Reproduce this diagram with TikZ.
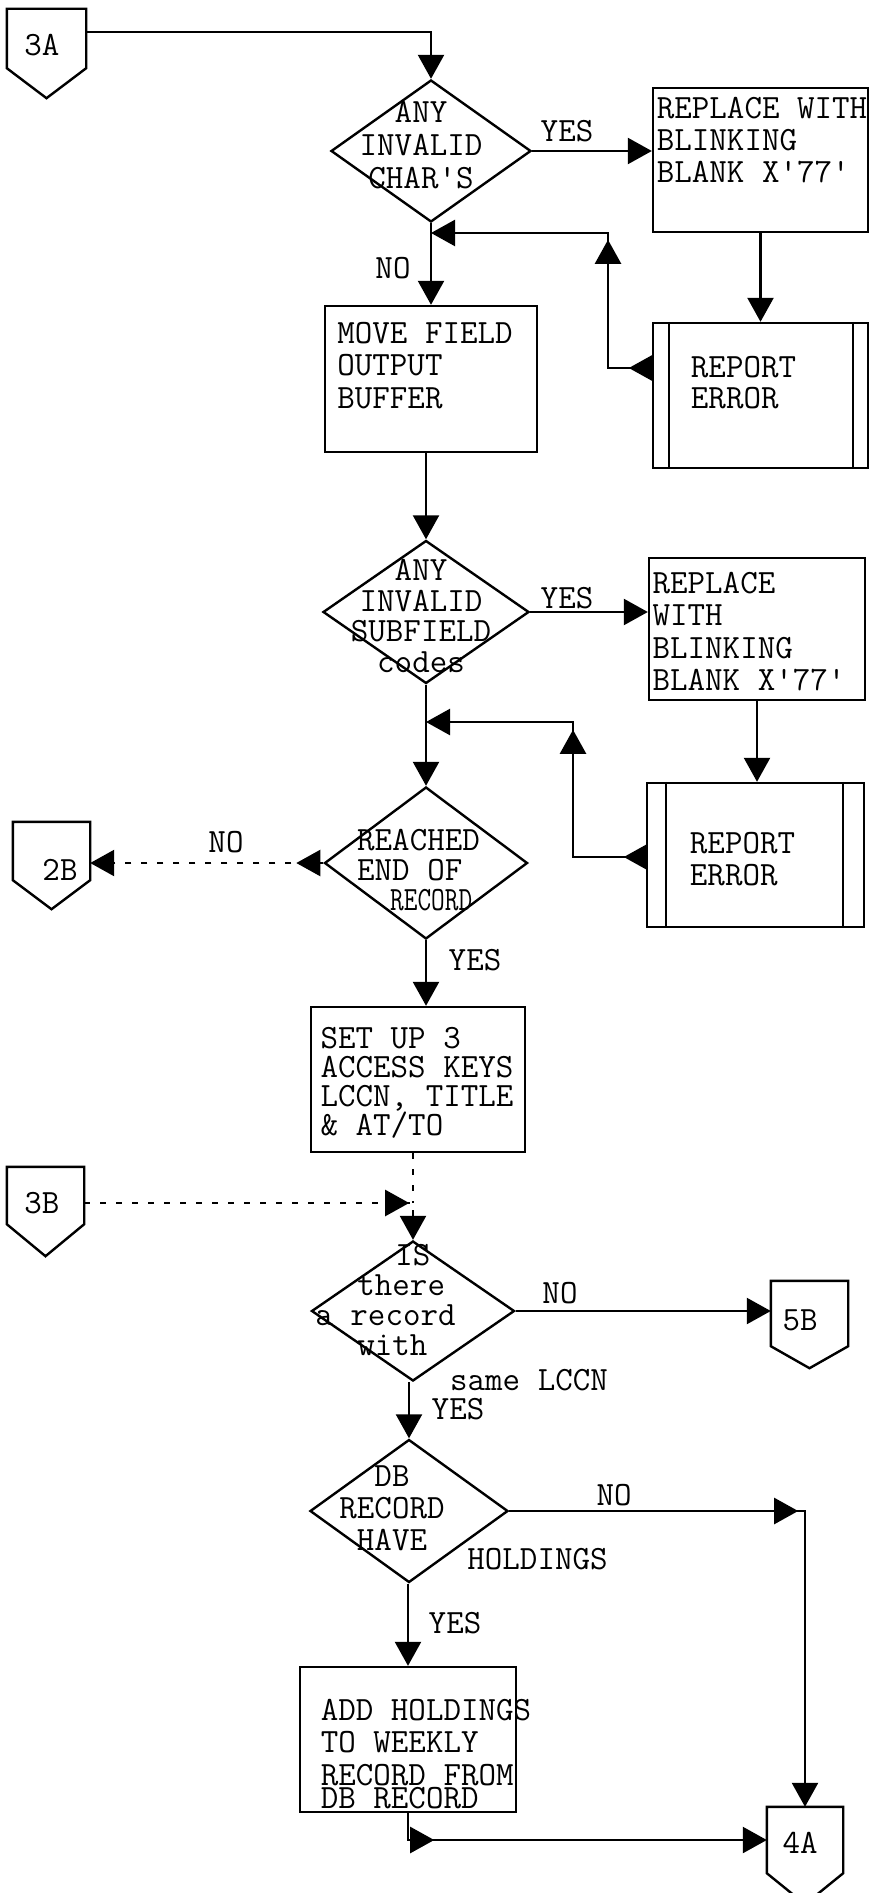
\documentclass[tikz,border=0pt]{standalone}
\usepackage{fontspec}
\usepackage{graphicx}
\usetikzlibrary{shapes.geometric,arrows.meta,decorations.markings,calc}
\newcommand\twfont[1]{\fontsize{17}{#1}\selectfont\ttfamily}
\newcommand\pent[2]{\draw[shp] (#1.north west) -- (#1.south west) -- ([yshift=-#2]#1.south) -- (#1.south east) -- (#1.north east) -- cycle;}
\tikzset{
 Tri/.tip={Triangle[length=12pt,width=13pt]},
 shp/.style={draw, line width=1.2pt, inner sep=0pt},
 dia/.style={shp, diamond},
 box/.style={shp, rectangle},
 conn/.style={inner sep=0pt},
 txt/.style={inner sep=0pt, align=left, font=\twfont{#1}},
 txt/.default=16pt,
 ctxt/.style={inner sep=0pt, align=center, font=\twfont{#1}},
 ctxt/.default=16pt,
 lbl/.style={inner sep=0pt, font=\twfont{16pt}},
 flow/.style={line width=1.2pt, -{Tri}},
 faint/.style={dash pattern=on 3pt off 5pt},
 ma/.style={postaction={decorate, decoration={markings, mark=at position #1 with {\arrow{Tri}}}}},
}
\begin{document}
\begin{tikzpicture}[x=0.5pt,y=-0.5pt,line width=1.2pt]
\useasboundingbox (0,0) rectangle (872,1893);

% ---- shapes ----
\node[dia, minimum width=100pt, minimum height=71pt] (d1) at (431,151) {};
\node[box, minimum width=107.5pt, minimum height=72pt] (b1) at (760.5,160) {};
\node[box, minimum width=106pt, minimum height=73pt] (mv) at (431,379) {};
\node[box, minimum width=107.5pt, minimum height=72.5pt] (r1) at (760.5,395.5) {};
\draw ([xshift=8.5pt]r1.north west) -- ([xshift=8.5pt]r1.south west)
      ([xshift=-8pt]r1.north east) -- ([xshift=-8pt]r1.south east);
\node[dia, minimum width=103pt, minimum height=71.5pt] (d2) at (426,612) {};
\node[box, minimum width=108pt, minimum height=71pt] (b2) at (757,629) {};
\node[box, minimum width=108.5pt, minimum height=72pt] (r2) at (755.5,855) {};
\draw ([xshift=10pt]r2.north west) -- ([xshift=10pt]r2.south west)
      ([xshift=-11pt]r2.north east) -- ([xshift=-11pt]r2.south east);
\node[dia, minimum width=101.5pt, minimum height=76pt] (d3) at (426,863) {};
\node[box, minimum width=107pt, minimum height=72.5pt] (su) at (418,1079.5) {};
\node[dia, minimum width=101.5pt, minimum height=70pt] (d4) at (413,1311) {};
\node[dia, minimum width=99pt, minimum height=71.5pt] (d5) at (409,1511) {};
\node[box, minimum width=108pt, minimum height=72.5pt] (ad) at (408,1739.5) {};

% ---- off-page connectors ----
\node[conn, minimum width=38.5pt, minimum height=28.5pt] (c3A) at (46.5,38.5) {};
\pent{c3A}{15pt}
\node[conn, minimum width=37.5pt, minimum height=28pt] (c2B) at (51.5,851) {};
\pent{c2B}{14.5pt}
\node[conn, minimum width=37.5pt, minimum height=27.5pt] (c3B) at (45.5,1195.5) {};
\pent{c3B}{16pt}
\node[conn, minimum width=37.5pt, minimum height=31.5pt] (c5B) at (809.5,1313.5) {};
\pent{c5B}{11pt}
\node[conn, minimum width=37pt, minimum height=32pt] (c4A) at (805,1840) {};
\pent{c4A}{15.5pt}

% ---- texts ----
\node[ctxt=16.5pt] (td1) at (421,145) {ANY\\INVALID\\CHAR'S};
\node[txt=16pt] (tb1) at (762,140) {REPLACE WITH\\BLINKING\\BLANK X'77'};
\node[txt=16.25pt] (tmv) at (425,365.5) {MOVE FIELD\\OUTPUT\\BUFFER};
\node[txt=15.5pt] (tr1) at (743.5,382.5) {REPORT\\ERROR};
\node[ctxt=15.35pt] (td2) at (421,616) {ANY\\INVALID\\SUBFIELD\\codes};
\node[txt=16.2pt] (tb2) at (749,631.5) {REPLACE\\WITH\\BLINKING\\BLANK X'77'};
\node[txt=16pt] (tr2) at (742.5,859) {REPORT\\ERROR};
\node[txt=15pt] (td3) at (418.5,870) {REACHED\\END OF\\\hspace*{16.5pt}\scalebox{0.78}[1]{RECORD}};
\node[txt=14.5pt] (tsu) at (417,1083) {SET UP 3\\ACCESS KEYS\\LCCN, TITLE\\\&{} AT/TO};
\node[txt=15pt] (td4) at (385.5,1299.5) {\hspace*{40pt}IS\\\hspace*{21pt}there\\a record\\\hspace*{21pt}with};
\node[ctxt=16pt] (td5) at (392,1508) {DB\\RECORD\\HAVE};
\node[txt=16.25pt] (tad) at (426,1754) {ADD HOLDINGS\\TO WEEKLY\\RECORD FROM\\[-4.75pt]DB RECORD};

\node[lbl] (t3A) at (42,45) {3A};
\node[lbl] (t2B) at (60,870) {2B};
\node[lbl] (t3B) at (42,1203) {3B};
\node[lbl] (t5B) at (800,1320) {5B};
\node[lbl] (t4A) at (800,1843) {4A};

\node[lbl] (y1) at (567,131) {YES};
\node[lbl] (n1) at (393,268) {NO};
\node[lbl] (y2) at (567,598) {YES};
\node[lbl] (n3) at (226,842) {NO};
\node[lbl] (y3) at (475,960) {YES};
\node[lbl] (n4) at (560,1293) {NO};
\node[lbl] (s4) at (529,1380) {same LCCN};
\node[lbl] (y4) at (458,1409) {YES};
\node[lbl] (n5) at (614,1495) {NO};
\node[lbl] (h5) at (537.5,1559) {HOLDINGS};
\node[lbl] (y5) at (455,1623) {YES};

% ---- connectors ----
\coordinate (j1) at (431,32);
\draw[flow] (c3A.east |- j1) -- (j1) -- (d1.north);
\draw[flow] (d1.east) -- (d1.east -| b1.west);
\draw[flow] (d1.south) -- (d1.south |- mv.north);
\draw[flow] (b1.south) -- (r1.north);
\coordinate (r1a) at (608,368);
\coordinate (r1b) at (608,233);
\draw[flow, ma=11.5pt, ma=86pt] (r1.west |- r1a) -- (r1a) -- (r1b) -- (d1.south |- r1b);

\draw[flow] (d2.north |- mv.south) -- (d2.north);
\draw[flow] (d2.east) -- (d2.east -| b2.west);
\draw[flow] (b2.south) -- (b2.south |- r2.north);
\coordinate (r2a) at (573,857);
\coordinate (r2b) at (573,722);
\draw[flow, ma=11pt, ma=100pt] (r2.west |- r2a) -- (r2a) -- (r2b) -- (d2.south |- r2b);
\draw[flow] (d2.south) -- (d3.north);

\draw[flow, faint, ma=13.5pt] (d3.west) -- (d3.west -| c2B.east);
\draw[flow] (d3.south) -- (d3.south |- su.north);

\coordinate (jx) at (413,1203);
\draw[faint] (su.south -| jx) -- (jx);
\draw[flow, faint, ma=162.5pt] (c3B.east |- jx) -- (jx) -- (d4.north);
\draw[flow] (d4.east) -- (d4.east -| c5B.west);
\draw[flow] (d5.north |- d4.south) -- (d5.north);
\coordinate (j5) at (c4A.north |- d5.east);
\draw[flow, ma=144.5pt] (d5.east) -- (j5) -- (c4A.north);
\draw[flow] (ad.north |- d5.south) -- (ad.north);
\coordinate (j6) at (ad.south |- c4A.west);
\draw[flow, ma=26.5pt] (ad.south) -- (j6) -- (c4A.west);
\end{tikzpicture}
\end{document}
